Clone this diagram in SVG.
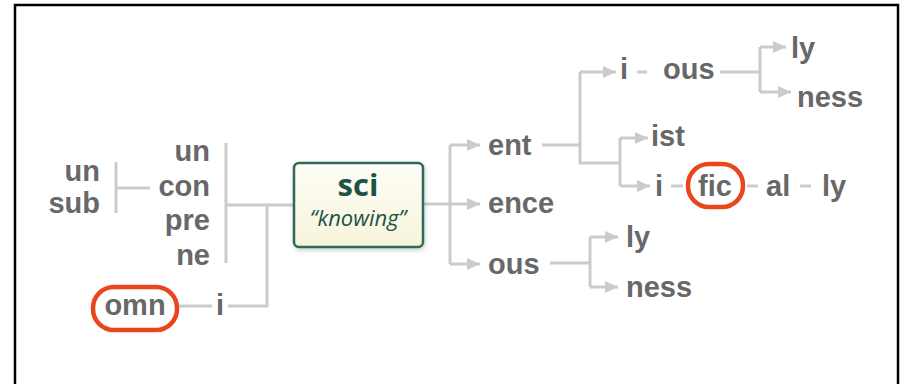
<svg xmlns="http://www.w3.org/2000/svg" width="906" height="384" viewBox="0 0 906 384">
<defs>
<style>
.t{font-family:"Liberation Sans",Arial,sans-serif;font-weight:bold;font-size:29px;fill:#686868}
.e{text-anchor:end}
.m{text-anchor:middle}
.c{fill:none;stroke:#cbcbcb;stroke-width:3}
.a{marker-end:url(#ah)}
.hl{fill:none;stroke:#e9461b;stroke-width:4.5}
</style>
<marker id="ah" markerUnits="userSpaceOnUse" markerWidth="13" markerHeight="12" refX="13" refY="6" orient="auto">
<path d="M0,0 L13,6 L0,12 z" fill="#cbcbcb"/>
</marker>
<linearGradient id="bg" x1="0" y1="0" x2="0" y2="1">
<stop offset="0" stop-color="#fefef6"/>
<stop offset="1" stop-color="#f7f4dc"/>
</linearGradient>
<filter id="sh" x="-10%" y="-10%" width="130%" height="130%">
<feDropShadow dx="1" dy="2" stdDeviation="2" flood-color="#000" flood-opacity="0.2"/>
</filter>
</defs>
<rect x="15" y="5" width="883" height="400" fill="#fff" stroke="#000" stroke-width="2.5"/>
<g id="connectors">
<path class="c" d="M116,162 V213 M116,188 H150"/>
<path class="c" d="M226,143 V263 M226,205 H294 M267,205 V306 H228 M178,306 H212"/>
<path class="c" d="M423,204 H450 M450,145 V264"/>
<path class="c a" d="M450,145 H480"/>
<path class="c a" d="M450,204 H480"/>
<path class="c a" d="M450,264 H480"/>
<path class="c" d="M542,145 H580 M580,72 V163 H620 M620,138 V186"/>
<path class="c a" d="M580,72 H616"/>
<path class="c a" d="M620,138 H648"/>
<path class="c a" d="M620,186 H650"/>
<path class="c" d="M637,72 H647 M720,72 H760 M760,47 V92"/>
<path class="c a" d="M760,47 H786"/>
<path class="c a" d="M760,92 H791"/>
<path class="c" d="M671,186 H683 M747,186 H758 M800,186 H811"/>
<path class="c" d="M550,263 H590 M590,237 V287"/>
<path class="c a" d="M590,237 H618"/>
<path class="c a" d="M590,287 H618"/>
</g>
<g id="n-un-sub"><text class="t e" x="100" y="181">un</text><text class="t e" x="100" y="213">sub</text></g>
<g id="n-un"><text class="t e" x="210" y="161">un</text></g>
<g id="n-con"><text class="t e" x="210" y="196">con</text></g>
<g id="n-pre"><text class="t e" x="210" y="230">pre</text></g>
<g id="n-ne"><text class="t e" x="210" y="265">ne</text></g>
<g id="n-omn"><rect class="hl" x="93" y="287" width="84" height="43" rx="21"/><text class="t m" x="135" y="315">omn</text></g>
<g id="n-i-left"><text class="t m" x="220" y="315">i</text></g>
<g id="n-sci">
<rect x="294" y="163" width="129" height="84" rx="5" fill="url(#bg)" stroke="#2e6b5b" stroke-width="2.5" filter="url(#sh)"/>
<text x="358" y="196" text-anchor="middle" font-family="'Open Sans','Noto Sans',sans-serif" font-weight="bold" font-size="31" fill="#1d5447">sci</text>
<text x="358" y="226" text-anchor="middle" font-family="'Open Sans','Noto Sans',sans-serif" font-style="italic" font-size="22" fill="#1d5447">“knowing”</text>
</g>
<g id="n-ent"><text class="t" x="488" y="155">ent</text></g>
<g id="n-ence"><text class="t" x="488" y="213">ence</text></g>
<g id="n-ous"><text class="t" x="488" y="274">ous</text></g>
<g id="n-i-ous"><text class="t" x="620" y="79">i</text><text class="t" x="663" y="79">ous</text></g>
<g id="n-ly-top"><text class="t" x="791" y="58">ly</text></g>
<g id="n-ness-top"><text class="t" x="797" y="107">ness</text></g>
<g id="n-ist"><text class="t" x="651" y="146">ist</text></g>
<g id="n-i-fic-al-ly"><text class="t" x="655" y="196">i</text><rect class="hl" x="688" y="164" width="55" height="43" rx="21"/><text class="t m" x="715" y="196">fic</text><text class="t" x="766" y="196">al</text><text class="t" x="822" y="196">ly</text></g>
<g id="n-ly-bottom"><text class="t" x="626" y="247">ly</text></g>
<g id="n-ness-bottom"><text class="t" x="626" y="297">ness</text></g>
</svg>
